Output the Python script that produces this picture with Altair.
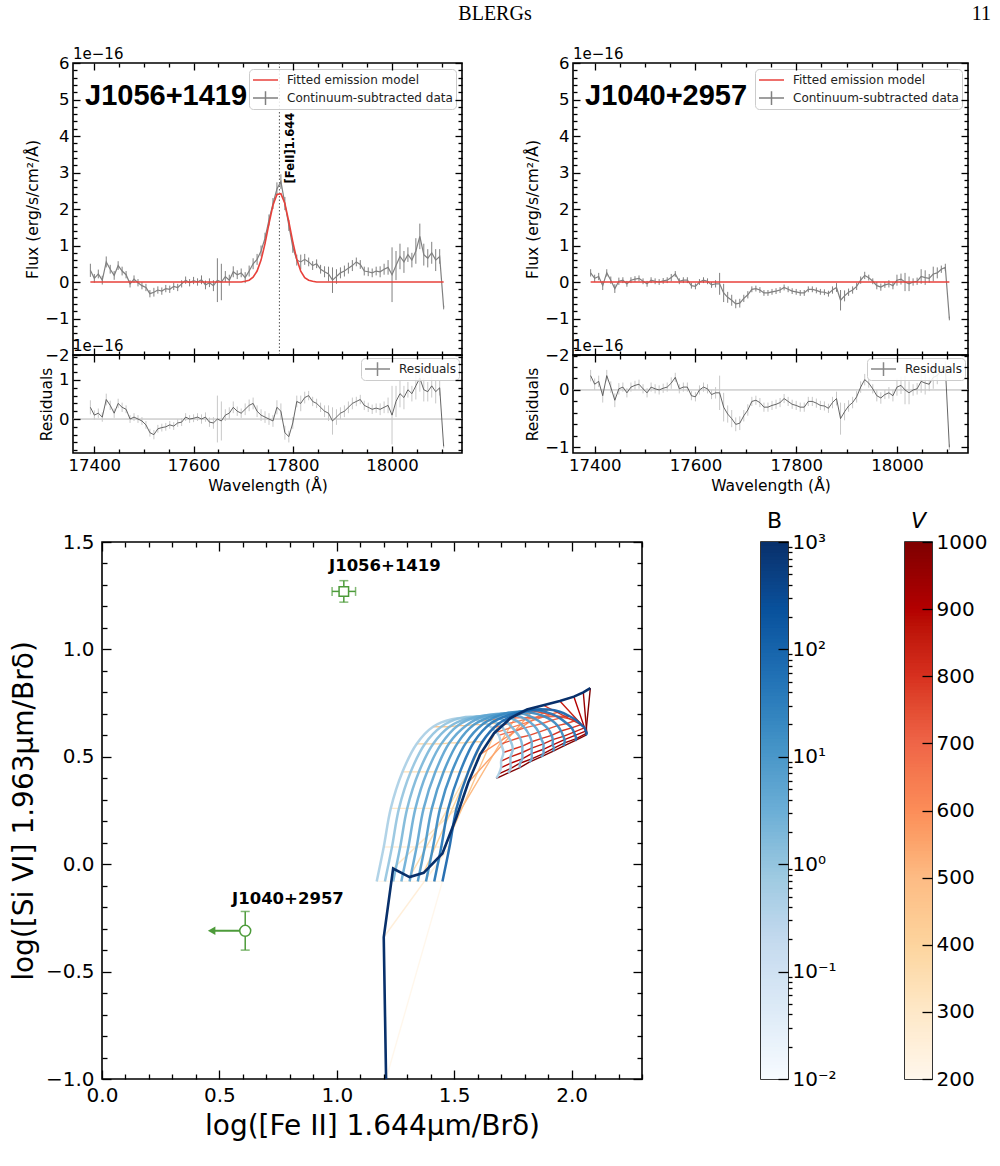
import altair as alt
import numpy as np
import pandas as pd

FONT = "DejaVu Sans"
GREEN = "#4d9b3a"
RED = "#e8413b"
GRAY = "#808080"

# ---------------- spectra (flux in units of 1e-16 erg/s/cm2/A) ----------------
WAVE = [17392, 17400, 17408, 17416, 17424, 17432, 17440, 17448, 17456, 17464,
        17472, 17480, 17488, 17496, 17504, 17512, 17520, 17528, 17536, 17544,
        17552, 17560, 17568, 17576, 17584, 17592, 17600, 17608, 17616, 17624,
        17632, 17640, 17648, 17656, 17664, 17672, 17680, 17688, 17696, 17704,
        17712, 17720, 17728, 17736, 17744, 17752, 17760, 17768, 17776, 17784,
        17792, 17800, 17808, 17816, 17824, 17832, 17840, 17848, 17856, 17864,
        17872, 17880, 17888, 17896, 17904, 17912, 17920, 17928, 17936, 17944,
        17952, 17960, 17968, 17976, 17984, 17992, 18000, 18008, 18016, 18024,
        18032, 18040, 18048, 18056, 18064, 18072, 18080, 18088, 18096, 18104]

J1056_FLUX = [0.32, 0.10, 0.22, 0.05, 0.55, 0.35, 0.18, 0.45, 0.30, 0.20,
              -0.05, 0.08, -0.02, -0.10, -0.15, -0.32, -0.28, -0.22, -0.25, -0.18,
              -0.20, -0.12, -0.15, -0.05, 0.05, -0.02, 0.04, 0.00, 0.06, -0.08,
              -0.02, -0.10, 0.05, 0.00, 0.15, 0.05, 0.28, 0.20, 0.25, 0.12,
              0.30, 0.50, 0.62, 0.85, 1.20, 1.70, 2.15, 2.55, 2.75, 2.15,
              1.55, 0.95, 0.60, 0.55, 0.62, 0.55, 0.45, 0.50, 0.35, 0.28,
              0.22, 0.05, 0.15, 0.25, 0.30, 0.38, 0.45, 0.55, 0.48, 0.30,
              0.28, 0.25, 0.30, 0.28, 0.35, 0.40, 0.20, 0.45, 0.70, 0.55,
              0.75, 0.60, 0.85, 1.25, 0.75, 0.65, 0.80, 0.60, 0.70, -0.70]
J1056_ERR = [0.18, 0.12, 0.12, 0.12, 0.15, 0.12, 0.12, 0.12, 0.12, 0.10,
             0.10, 0.10, 0.10, 0.10, 0.10, 0.10, 0.12, 0.10, 0.10, 0.10,
             0.10, 0.10, 0.10, 0.10, 0.10, 0.10, 0.10, 0.10, 0.12, 0.12,
             0.12, 0.15, 0.60, 0.50, 0.15, 0.15, 0.15, 0.12, 0.12, 0.15,
             0.15, 0.15, 0.15, 0.15, 0.15, 0.15, 0.15, 0.18, 0.20, 0.18,
             0.15, 0.15, 0.15, 0.20, 0.15, 0.12, 0.12, 0.12, 0.12, 0.15,
             0.20, 0.35, 0.20, 0.15, 0.15, 0.15, 0.15, 0.12, 0.12, 0.12,
             0.12, 0.12, 0.12, 0.15, 0.15, 0.20, 0.75, 0.40, 0.35, 0.30,
             0.20, 0.20, 0.35, 0.35, 0.30, 0.25, 0.30, 0.30, 0.20, 0.05]
J1056_MODEL = [0, 0, 0, 0, 0, 0, 0, 0, 0, 0,
               0, 0, 0, 0, 0, 0, 0, 0, 0, 0,
               0, 0, 0, 0, 0, 0, 0, 0, 0, 0,
               0, 0, 0, 0, 0, 0, 0, 0, 0, 0.02,
               0.05, 0.13, 0.30, 0.60, 1.05, 1.60, 2.10, 2.40, 2.42, 2.15,
               1.65, 1.10, 0.62, 0.30, 0.12, 0.05, 0.02, 0, 0, 0,
               0, 0, 0, 0, 0, 0, 0, 0, 0, 0,
               0, 0, 0, 0, 0, 0, 0, 0, 0, 0,
               0, 0, 0, 0, 0, 0, 0, 0, 0, 0]
J1056_RESID = [0.30, 0.10, 0.15, 0.05, 0.50, 0.35, 0.15, 0.40, 0.30, 0.25,
               0.00, 0.05, 0.00, -0.05, -0.15, -0.35, -0.40, -0.25, -0.22, -0.20,
               -0.15, -0.18, -0.10, -0.08, 0.05, 0.00, 0.02, 0.05, 0.00, 0.05,
               -0.08, -0.10, 0.00, -0.05, 0.10, 0.15, 0.30, 0.20, 0.15, 0.25,
               0.35, 0.40, 0.20, 0.10, 0.05, 0.00, -0.05, 0.30, 0.20, -0.35,
               -0.45, -0.10, 0.45, 0.40, 0.55, 0.60, 0.45, 0.40, 0.30, 0.20,
               0.15, -0.05, 0.05, 0.15, 0.20, 0.30, 0.40, 0.45, 0.50, 0.35,
               0.30, 0.25, 0.28, 0.25, 0.30, 0.35, 0.10, 0.45, 0.65, 0.55,
               0.75, 0.65, 0.85, 1.05, 0.75, 0.70, 0.85, 0.70, 0.80, -0.70]

J1040_FLUX = [0.25, 0.10, 0.15, -0.10, 0.25, 0.05, -0.18, 0.02, 0.05, -0.05,
              0.05, 0.08, 0.10, 0.02, -0.05, 0.05, 0.02, 0.00, 0.03, 0.05,
              0.12, 0.22, 0.02, 0.05, 0.05, -0.10, -0.12, 0.00, 0.05, 0.02,
              -0.08, -0.05, -0.05, -0.30, -0.42, -0.50, -0.60, -0.58, -0.45, -0.35,
              -0.20, -0.18, -0.22, -0.30, -0.30, -0.27, -0.25, -0.22, -0.15, -0.20,
              -0.25, -0.27, -0.30, -0.30, -0.20, -0.20, -0.23, -0.27, -0.28, -0.32,
              -0.22, -0.15, -0.50, -0.38, -0.28, -0.22, -0.12, 0.05, 0.18, 0.12,
              0.02, -0.10, -0.14, -0.08, -0.05, -0.10, 0.05, 0.08, 0.00, -0.05,
              0.00, 0.02, 0.15, 0.12, 0.10, 0.22, 0.25, 0.35, 0.40, -1.00]
J1040_ERR = [0.10, 0.10, 0.10, 0.12, 0.10, 0.10, 0.12, 0.10, 0.08, 0.08,
             0.08, 0.08, 0.08, 0.08, 0.08, 0.08, 0.08, 0.08, 0.08, 0.08,
             0.10, 0.08, 0.08, 0.08, 0.08, 0.08, 0.08, 0.08, 0.08, 0.08,
             0.08, 0.10, 0.30, 0.25, 0.15, 0.15, 0.12, 0.12, 0.10, 0.10,
             0.08, 0.08, 0.08, 0.08, 0.08, 0.08, 0.08, 0.08, 0.08, 0.08,
             0.08, 0.08, 0.08, 0.08, 0.08, 0.08, 0.08, 0.08, 0.08, 0.08,
             0.10, 0.12, 0.28, 0.15, 0.10, 0.10, 0.10, 0.10, 0.10, 0.08,
             0.08, 0.10, 0.10, 0.08, 0.10, 0.10, 0.15, 0.15, 0.25, 0.20,
             0.10, 0.10, 0.20, 0.20, 0.12, 0.20, 0.15, 0.10, 0.10, 0.05]
J1040_MODEL = [0.0] * len(WAVE)
J1040_RESID = J1040_FLUX

LINE_WAVE = [17773]
LINE_LABEL = ["[FeII]1.644"]
LINE_LABEL_WAVE = [17797]
LINE_LABEL_FLUX = [2.70]

LEG_MAIN = ["Fitted emission model", "Continuum-subtracted data"]
LEG_RES = ["Residuals"]
HEADER = ["BLERGs", "11"]

# ---------------- shock model grid (B curves x V curves) ----------------
MODEL_B = [0.5, 1.0, 2.0, 3.2, 5.0, 10.0, 20.0, 50.0, 100.0, 1000.0]
MODEL_V = [200, 250, 300, 350, 400, 450, 500, 550, 600, 650, 700, 750, 800, 850, 900, 950, 1000]
GRID_X = [
    [1.17, 1.20, 1.23, 1.28, 1.34, 1.41, 1.49, 1.56, 1.62, 1.66, 1.69, 1.70, 1.71, 1.70, 1.70, 1.69, 1.68],
    [1.205, 1.235, 1.265, 1.315, 1.375, 1.445, 1.525, 1.595, 1.655, 1.70, 1.72, 1.74, 1.75, 1.74, 1.74, 1.74, 1.73],
    [1.24, 1.27, 1.30, 1.35, 1.41, 1.48, 1.56, 1.63, 1.69, 1.73, 1.76, 1.78, 1.79, 1.79, 1.79, 1.78, 1.78],
    [1.275, 1.305, 1.335, 1.385, 1.445, 1.515, 1.595, 1.665, 1.725, 1.77, 1.80, 1.82, 1.83, 1.83, 1.83, 1.83, 1.82],
    [1.31, 1.34, 1.37, 1.42, 1.48, 1.55, 1.63, 1.70, 1.76, 1.805, 1.84, 1.86, 1.87, 1.88, 1.88, 1.88, 1.87],
    [1.345, 1.375, 1.405, 1.455, 1.515, 1.585, 1.665, 1.735, 1.795, 1.84, 1.875, 1.90, 1.915, 1.92, 1.92, 1.925, 1.92],
    [1.38, 1.41, 1.44, 1.49, 1.55, 1.62, 1.70, 1.77, 1.83, 1.88, 1.915, 1.94, 1.955, 1.965, 1.97, 1.97, 1.965],
    [1.415, 1.445, 1.475, 1.525, 1.585, 1.655, 1.735, 1.805, 1.865, 1.915, 1.95, 1.98, 2.00, 2.01, 2.015, 2.02, 2.015],
    [1.45, 1.48, 1.51, 1.56, 1.62, 1.69, 1.77, 1.84, 1.90, 1.95, 1.99, 2.02, 2.04, 2.055, 2.06, 2.065, 2.06],
    [1.21, 1.20, 1.24, 1.31, 1.37, 1.45, 1.51, 1.56, 1.61, 1.67, 1.74, 1.81, 1.88, 1.95, 2.01, 2.05, 2.08],
]
GRID_Y = [
    [-0.08, 0.08, 0.26, 0.43, 0.56, 0.64, 0.675, 0.68, 0.665, 0.635, 0.60, 0.56, 0.52, 0.48, 0.45, 0.42, 0.40],
    [-0.08, 0.08, 0.26, 0.43, 0.56, 0.64, 0.68, 0.685, 0.67, 0.645, 0.61, 0.575, 0.535, 0.50, 0.47, 0.445, 0.425],
    [-0.08, 0.08, 0.26, 0.43, 0.56, 0.64, 0.68, 0.69, 0.68, 0.655, 0.62, 0.59, 0.55, 0.52, 0.49, 0.47, 0.45],
    [-0.08, 0.08, 0.26, 0.43, 0.56, 0.645, 0.685, 0.695, 0.685, 0.665, 0.635, 0.60, 0.57, 0.54, 0.515, 0.49, 0.475],
    [-0.08, 0.08, 0.26, 0.43, 0.565, 0.645, 0.69, 0.70, 0.695, 0.675, 0.645, 0.615, 0.585, 0.56, 0.535, 0.515, 0.50],
    [-0.08, 0.08, 0.26, 0.43, 0.565, 0.65, 0.69, 0.705, 0.70, 0.68, 0.655, 0.63, 0.60, 0.58, 0.555, 0.54, 0.525],
    [-0.08, 0.08, 0.26, 0.43, 0.565, 0.65, 0.695, 0.71, 0.705, 0.69, 0.67, 0.645, 0.62, 0.595, 0.58, 0.565, 0.55],
    [-0.08, 0.08, 0.26, 0.43, 0.57, 0.655, 0.695, 0.715, 0.715, 0.70, 0.68, 0.655, 0.635, 0.615, 0.60, 0.585, 0.575],
    [-0.08, 0.08, 0.26, 0.43, 0.57, 0.655, 0.70, 0.72, 0.72, 0.71, 0.69, 0.67, 0.65, 0.635, 0.62, 0.61, 0.60],
    [-1.00, -0.34, -0.02, -0.06, -0.04, 0.05, 0.22, 0.38, 0.51, 0.61, 0.68, 0.72, 0.74, 0.76, 0.78, 0.80, 0.82],
]

# colour maps (matplotlib Blues / OrRd stops)
BLUES = ["#f7fbff", "#deebf7", "#c6dbef", "#9ecae1", "#6baed6", "#4292c6", "#2171b5", "#08519c", "#08306b"]
ORRD = ["#fff7ec", "#fee8c8", "#fdd49e", "#fdbb84", "#fc8d59", "#ef6548", "#d7301f", "#b30000", "#7f0000"]
B_STOPS = [10.0 ** (-2 + 5 * k / 8) for k in range(9)]
V_STOPS = [200, 300, 400, 500, 600, 700, 800, 900, 1000]

# observed objects
OBS_NAME = ["J1056+1419", "J1040+2957"]
OBS_X = [1.03, 0.61]
OBS_Y = [1.27, -0.31]
OBS_XERR = [0.05, 0.0]
OBS_YERR = [0.05, 0.09]
OBS_SHAPE = ["square", "circle"]
UL_X_TO = [0.467]
LABEL_X = [1.205, 0.792]
LABEL_Y = [1.388, -0.162]

# tick positions
TOP_X_MAJOR = [17400, 17600, 17800, 18000]
TOP_X_MINOR = [17450, 17500, 17550, 17650, 17700, 17750, 17850, 17900, 17950, 18050, 18100]
FLUX_Y_MAJOR = [-2, -1, 0, 1, 2, 3, 4, 5, 6]
FLUX_Y_MINOR = [round(-2 + 0.2 * i, 1) for i in range(41) if i % 5]
RES1_Y_MAJOR = [0, 1]
RES1_Y_MINOR = [-0.8, -0.6, -0.4, -0.2, 0.2, 0.4, 0.6, 0.8, 1.2, 1.4, 1.6]
RES2_Y_MAJOR = [-1, 0]
RES2_Y_MINOR = [-0.8, -0.6, -0.4, -0.2, 0.2, 0.4, 0.6]
BOT_X_MAJOR = [0.0, 0.5, 1.0, 1.5, 2.0]
BOT_X_MINOR = [round(0.1 * i, 1) for i in range(24) if i % 5]
BOT_Y_MAJOR = [-1.0, -0.5, 0.0, 0.5, 1.0, 1.5]
BOT_Y_MINOR = [round(-1 + 0.1 * i, 1) for i in range(26) if i % 5]
B_MAJOR = [0.01, 0.1, 1, 10, 100, 1000]
B_MINOR = [k * 10.0 ** e for e in range(-2, 3) for k in range(2, 10)]
V_MAJOR = [200, 300, 400, 500, 600, 700, 800, 900, 1000]

XDOM = [17357, 18141]


def tick_axis(orient, values, size, labels=False, title=None, fmt=None, lfs=16,
              tfs=15, lpad=4, tpad=4, expr=None, offset=None):
    kw = dict(orient=orient, values=values, tickSize=size,
              offset=(-size if offset is None else offset), labels=labels,
              domain=False, grid=False, ticks=True, tickColor="black",
              tickWidth=1.3, zindex=2, title=title)
    if labels:
        kw.update(labelFontSize=lfs, labelFont=FONT, labelColor="black",
                  labelPadding=lpad, labelFlush=False, labelOverlap=False,
                  labelBound=False)
        if fmt:
            kw["format"] = fmt
        if expr:
            kw["labelExpr"] = expr
    if title:
        kw.update(titleFontSize=tfs, titleFont=FONT, titleFontWeight="normal",
                  titleColor="black", titlePadding=tpad)
    return alt.Axis(**kw)


def frame_layers(xdom, ydom, xmaj, xmin, ymaj, ymin, big, small, xlab=True,
                 ylab=True, xtitle=None, ytitle=None, xfmt="d", yfmt="d",
                 lfs=16, tfs=15, xlpad=4, ylpad=4, xtpad=4, ytpad=4, ytfs=None):
    corners = pd.DataFrame({"fx": list(xdom), "fy": list(ydom)})
    xs = alt.Scale(domain=list(xdom), nice=False, zero=False)
    ys = alt.Scale(domain=list(ydom), nice=False, zero=False)
    conf = [("bottom", "left", xmaj, ymaj, big, True),
            ("bottom", "left", xmin, ymin, small, False),
            ("top", "right", xmaj, ymaj, big, False),
            ("top", "right", xmin, ymin, small, False)]
    out = []
    for xo, yo, xv, yv, sz, main in conf:
        xa = tick_axis(xo, xv, sz, labels=(main and xlab),
                       title=(xtitle if main else None), fmt=xfmt, lfs=lfs,
                       tfs=tfs, lpad=xlpad, tpad=xtpad)
        ya = tick_axis(yo, yv, sz, labels=(main and ylab),
                       title=(ytitle if main else None), fmt=yfmt, lfs=lfs,
                       tfs=(ytfs or tfs), lpad=ylpad, tpad=ytpad)
        out.append(alt.Chart(corners).mark_point(opacity=0).encode(
            x=alt.X("fx:Q", scale=xs, axis=xa),
            y=alt.Y("fy:Q", scale=ys, axis=ya)))
    return out


def legend_layer(names, colors, shapes, offset, xdom, ydom):
    leg = alt.Legend(title=None, orient="top-right", offset=offset,
                     labelFontSize=12, labelFont=FONT, labelColor="#222222",
                     fillColor="rgba(255,255,255,0.85)", strokeColor="#cccccc",
                     cornerRadius=4, padding=3, rowPadding=2, labelLimit=300,
                     symbolSize=625, symbolStrokeWidth=1.5, symbolOpacity=1,
                     clipHeight=16, labelOffset=8)
    df = pd.DataFrame({"series": names, "lx": [xdom[0]] * len(names), "ly": [ydom[0]] * len(names)})
    return alt.Chart(df).mark_point(opacity=0, filled=False).encode(
        x=alt.X("lx:Q", scale=alt.Scale(domain=xdom, nice=False, zero=False), axis=None),
        y=alt.Y("ly:Q", scale=alt.Scale(domain=ydom, nice=False, zero=False), axis=None),
        color=alt.Color("series:N", scale=alt.Scale(domain=names, range=colors), legend=leg),
        shape=alt.Shape("series:N", scale=alt.Scale(domain=names, range=shapes), legend=leg))


def text_px(txt, x, y, size, weight="normal", align="left", font=FONT, style="normal"):
    return alt.Chart(pd.DataFrame({"t": [txt]})).mark_text(
        align=align, baseline="middle", font=font, fontSize=size,
        fontWeight=weight, fontStyle=style, color="black").encode(
        x=alt.value(x), y=alt.value(y), text="t:N")


def spectrum_panel(flux, err, model, name, width, line=False, header=False):
    df = pd.DataFrame({"wave": WAVE, "f": flux, "m": model,
                       "lo": [a - b for a, b in zip(flux, err)],
                       "hi": [a + b for a, b in zip(flux, err)]})
    xs = alt.Scale(domain=XDOM, nice=False, zero=False)
    ys = alt.Scale(domain=[-2, 6], nice=False, zero=False)
    X = alt.X("wave:Q", scale=xs, axis=None)
    base = alt.Chart(df)
    layers = []
    if line:
        ldf = pd.DataFrame({"wave": LINE_WAVE, "a": [-2], "b": [6]})
        layers.append(alt.Chart(ldf).mark_rule(color="#555555", strokeWidth=1,
                                               strokeDash=[1.5, 2]).encode(
            x=X, y=alt.Y("a:Q", scale=ys, axis=None), y2="b:Q"))
    layers += [
        base.mark_rule(color=GRAY, strokeWidth=1, clip=True).encode(
            x=X, y=alt.Y("lo:Q", scale=ys, axis=None), y2="hi:Q"),
        base.mark_line(color=GRAY, strokeWidth=1.2, clip=True).encode(
            x=X, y=alt.Y("f:Q", scale=ys, axis=None)),
        base.mark_line(color=RED, strokeWidth=1.6, clip=True).encode(
            x=X, y=alt.Y("m:Q", scale=ys, axis=None)),
    ]
    if line:
        tdf = pd.DataFrame({"wave": LINE_LABEL_WAVE, "f": LINE_LABEL_FLUX, "t": LINE_LABEL})
        layers.append(alt.Chart(tdf).mark_text(
            angle=270, align="left", baseline="middle", font=FONT, fontSize=11.5,
            fontWeight="bold", color="black").encode(
            x=X, y=alt.Y("f:Q", scale=ys, axis=None), text="t:N"))
    layers.append(text_px(name, 12, 33, 29, weight="bold", font="Liberation Sans"))
    layers.append(text_px("1e\u221216", 0, -9, 15))
    if header:
        layers.append(text_px(HEADER[0], 422, -49, 20, align="center", font="Liberation Serif"))
        layers.append(text_px(HEADER[1], 918, -49, 20, align="right", font="Liberation Serif"))
    layers.append(legend_layer(LEG_MAIN, [RED, GRAY],
                               ["stroke", "M-1,0H1M0,-0.55V0.55"], 6, XDOM, [-2, 6]))
    layers += frame_layers(XDOM, [-2, 6], TOP_X_MAJOR, TOP_X_MINOR,
                           FLUX_Y_MAJOR, FLUX_Y_MINOR, 7, 4, xlab=False,
                           ytitle="Flux (erg/s/cm\u00b2/\u00c5)", lfs=16.5, tfs=15.5)
    return alt.layer(*layers).resolve_axis(x="independent", y="independent").properties(
        width=width, height=292)


def residual_panel(resid, err, ydom, ymaj, ymin, width):
    df = pd.DataFrame({"wave": WAVE, "r": resid,
                       "lo": [a - b for a, b in zip(resid, err)],
                       "hi": [a + b for a, b in zip(resid, err)]})
    xs = alt.Scale(domain=XDOM, nice=False, zero=False)
    ys = alt.Scale(domain=ydom, nice=False, zero=False)
    X = alt.X("wave:Q", scale=xs, axis=None)
    base = alt.Chart(df)
    zdf = pd.DataFrame({"wave": [XDOM[0]], "w2": [XDOM[1]], "z": [0]})
    layers = [
        alt.Chart(zdf).mark_rule(color="#b5b5b5", strokeWidth=1).encode(
            x=X, x2="w2:Q", y=alt.Y("z:Q", scale=ys, axis=None)),
        base.mark_rule(color="#c8c8c8", strokeWidth=1, clip=True).encode(
            x=X, y=alt.Y("lo:Q", scale=ys, axis=None), y2="hi:Q"),
        base.mark_line(color="#555555", strokeWidth=0.9, clip=True).encode(
            x=X, y=alt.Y("r:Q", scale=ys, axis=None)),
        text_px("1e\u221216", 0, -9, 15),
        legend_layer(LEG_RES, ["#888888"], ["M-1,0H1M0,-0.55V0.55"], 3, XDOM, ydom),
    ]
    layers += frame_layers(XDOM, ydom, TOP_X_MAJOR, TOP_X_MINOR, ymaj, ymin, 7, 4,
                           xtitle="Wavelength (\u00c5)", ytitle="Residuals",
                           xtpad=5, lfs=16.5, tfs=15.5)
    return alt.layer(*layers).resolve_axis(x="independent", y="independent").properties(
        width=width, height=98)


# ---------------- model-grid diagnostic panel ----------------
rows = []
for b, xr, yr in zip(MODEL_B, GRID_X, GRID_Y):
    for v, xv, yv in zip(MODEL_V, xr, yr):
        rows.append({"B": b, "V": v, "x": xv, "y": yv})
grid = pd.DataFrame(rows)

bxs = alt.Scale(domain=[0, 2.3], nice=False, zero=False)
bys = alt.Scale(domain=[-1, 1.5], nice=False, zero=False)
BX = alt.X("x:Q", scale=bxs, axis=None)
BY = alt.Y("y:Q", scale=bys, axis=None)
B_CSCALE = alt.Scale(type="log", domain=B_STOPS, range=BLUES)
V_CSCALE = alt.Scale(domain=V_STOPS, range=ORRD)

red_lines = alt.Chart(grid).mark_line(strokeWidth=1.4, clip=True).encode(
    x=BX, y=BY, detail="V:Q", order=alt.Order("B:Q"),
    color=alt.Color("V:Q", scale=V_CSCALE, legend=None))
blue_lines = alt.Chart(grid[grid.B < 1000]).mark_line(
    strokeWidth=2.5, opacity=0.92, interpolate="catmull-rom", clip=True).encode(
    x=BX, y=BY, detail="B:Q", order=alt.Order("V:Q"),
    color=alt.Color("B:Q", scale=B_CSCALE, legend=None))
dark_line = alt.Chart(grid[grid.B == 1000]).mark_line(
    strokeWidth=2.6, color="#08306b", clip=True).encode(x=BX, y=BY, order=alt.Order("V:Q"))

obs = pd.DataFrame({"name": OBS_NAME, "x": OBS_X, "y": OBS_Y, "shape": OBS_SHAPE,
                    "xlo": [a - b for a, b in zip(OBS_X, OBS_XERR)],
                    "xhi": [a + b for a, b in zip(OBS_X, OBS_XERR)],
                    "ylo": [a - b for a, b in zip(OBS_Y, OBS_YERR)],
                    "yhi": [a + b for a, b in zip(OBS_Y, OBS_YERR)],
                    "lx": LABEL_X, "ly": LABEL_Y})
obs_x = obs[obs.xlo < obs.xhi]
ul = pd.DataFrame({"x": [OBS_X[1]], "x2": UL_X_TO, "y": [OBS_Y[1]]})

obs_layers = [
    alt.Chart(obs).mark_rule(color=GREEN, strokeWidth=1.5).encode(
        x=alt.X("x:Q", scale=bxs, axis=None), y=alt.Y("ylo:Q", scale=bys, axis=None), y2="yhi:Q"),
    alt.Chart(obs).mark_tick(orient="horizontal", size=9, thickness=1.5, color=GREEN).encode(
        x=alt.X("x:Q", scale=bxs, axis=None), y=alt.Y("ylo:Q", scale=bys, axis=None)),
    alt.Chart(obs).mark_tick(orient="horizontal", size=9, thickness=1.5, color=GREEN).encode(
        x=alt.X("x:Q", scale=bxs, axis=None), y=alt.Y("yhi:Q", scale=bys, axis=None)),
    alt.Chart(obs_x).mark_rule(color=GREEN, strokeWidth=1.5).encode(
        x=alt.X("xlo:Q", scale=bxs, axis=None), x2="xhi:Q", y=alt.Y("y:Q", scale=bys, axis=None)),
    alt.Chart(obs_x).mark_tick(orient="vertical", size=9, thickness=1.5, color=GREEN).encode(
        x=alt.X("xlo:Q", scale=bxs, axis=None), y=alt.Y("y:Q", scale=bys, axis=None)),
    alt.Chart(obs_x).mark_tick(orient="vertical", size=9, thickness=1.5, color=GREEN).encode(
        x=alt.X("xhi:Q", scale=bxs, axis=None), y=alt.Y("y:Q", scale=bys, axis=None)),
    alt.Chart(ul).mark_rule(color=GREEN, strokeWidth=2).encode(
        x=alt.X("x:Q", scale=bxs, axis=None), x2="x2:Q", y=alt.Y("y:Q", scale=bys, axis=None)),
    alt.Chart(ul).mark_point(shape="triangle-left", size=75, filled=True, color=GREEN, opacity=1).encode(
        x=alt.X("x2:Q", scale=bxs, axis=None), y=alt.Y("y:Q", scale=bys, axis=None)),
    alt.Chart(obs[obs["shape"] == "square"]).mark_point(
        shape="square", size=90, filled=True, fill="white", stroke=GREEN, strokeWidth=1.5, opacity=1).encode(
        x=alt.X("x:Q", scale=bxs, axis=None), y=alt.Y("y:Q", scale=bys, axis=None)),
    alt.Chart(obs[obs["shape"] == "circle"]).mark_point(
        shape="circle", size=120, filled=True, fill="white", stroke=GREEN, strokeWidth=1.5, opacity=1).encode(
        x=alt.X("x:Q", scale=bxs, axis=None), y=alt.Y("y:Q", scale=bys, axis=None)),
    alt.Chart(obs).mark_text(font=FONT, fontSize=16.5, fontWeight="bold", color="black",
                             align="center", baseline="middle").encode(
        x=alt.X("lx:Q", scale=bxs, axis=None), y=alt.Y("ly:Q", scale=bys, axis=None), text="name:N"),
]

scatter = alt.layer(
    red_lines, blue_lines, dark_line, *obs_layers,
    *frame_layers([0, 2.3], [-1, 1.5], BOT_X_MAJOR, BOT_X_MINOR, BOT_Y_MAJOR, BOT_Y_MINOR,
                  9, 5, xtitle="log([Fe II] 1.644\u03bcm/Br\u03b4)",
                  ytitle="log([Si VI] 1.963\u03bcm/Br\u03b4)", xfmt=".1f", yfmt=".1f",
                  lfs=20, tfs=28, ytfs=28, xlpad=6, ylpad=8, xtpad=7, ytpad=7)
).resolve_scale(color="independent").resolve_axis(x="independent", y="independent").properties(
    width=540, height=537)


def colorbar(edges, scale_type, domain, cscale, major, minor, expr, title, italic):
    n = len(edges) - 1
    lo = list(edges[:-1])
    hi = [edges[min(i + 2, n)] for i in range(n)]  # overlap neighbours to hide seams
    if scale_type == "log":
        mid = list(np.sqrt(edges[:-1] * edges[1:]))
        ys = alt.Scale(type="log", domain=domain, nice=False)
    else:
        mid = list((edges[:-1] + edges[1:]) / 2)
        ys = alt.Scale(domain=domain, nice=False, zero=False)
    df = pd.DataFrame({"lo": lo, "hi": hi, "mid": mid,
                       "c0": [0.0] * n, "c1": [1.0] * n})
    xs = alt.Scale(domain=[0, 1], nice=False, zero=False)
    stripes = alt.Chart(df).mark_rect(strokeWidth=0).encode(
        x=alt.X("c0:Q", scale=xs, axis=None), x2="c1:Q",
        y=alt.Y("lo:Q", scale=ys, axis=None), y2="hi:Q",
        color=alt.Color("mid:Q", scale=cscale, legend=None))
    majax = tick_axis("right", major, 10, labels=True, fmt="d", lfs=20, lpad=4, expr=expr)
    layers = [stripes,
              alt.Chart(df).mark_point(opacity=0).encode(
                  x=alt.X("c0:Q", scale=xs, axis=None),
                  y=alt.Y("lo:Q", scale=ys, axis=majax))]
    if minor:
        minax = tick_axis("right", minor, 4, offset=0)
        layers.append(alt.Chart(df).mark_point(opacity=0).encode(
            x=alt.X("c0:Q", scale=xs, axis=None),
            y=alt.Y("lo:Q", scale=ys, axis=minax)))
    return alt.layer(*layers).resolve_axis(y="independent").resolve_scale(
        color="independent").properties(
        width=27, height=537,
        title=alt.TitleParams(title, fontSize=22, font=FONT, fontWeight="normal",
                              fontStyle=("italic" if italic else "normal"),
                              offset=-1, anchor="middle", color="black"))


B_EXPR = "'10' + ['\u207b\u00b2','\u207b\u00b9','\u2070','\u00b9','\u00b2','\u00b3'][round(log(datum.value)/LN10) + 2]"
cbB = colorbar(np.logspace(-2, 3, 151), "log", [0.01, 1000], B_CSCALE, B_MAJOR, B_MINOR,
               B_EXPR, "B", False)
cbV = colorbar(np.linspace(200, 1000, 161), "linear", [200, 1000], V_CSCALE, V_MAJOR, None,
               None, "V", True)


def spacer(w):
    df = pd.DataFrame({"s": [0.0]})
    return alt.Chart(df).mark_point(opacity=0).encode(
        x=alt.X("s:Q", axis=None), y=alt.Y("s:Q", axis=None)).properties(
        width=w, height=10, view=alt.ViewBackground(strokeOpacity=0))


# ---------------- composition ----------------
# note: with flush bounds a nested concat counts as zero size, so the spacing
# values below are the offsets between the panels' top-left corners.
RES = dict(color="independent", shape="independent", stroke="independent")

left_col = alt.vconcat(
    spectrum_panel(J1056_FLUX, J1056_ERR, J1056_MODEL, "J1056+1419", 389, line=True, header=True),
    residual_panel(J1056_RESID, J1056_ERR, [-0.87, 1.64], RES1_Y_MAJOR, RES1_Y_MINOR, 389),
    spacing=0, bounds="flush").resolve_scale(**RES)
right_col = alt.vconcat(
    spectrum_panel(J1040_FLUX, J1040_ERR, J1040_MODEL, "J1040+2957", 395),
    residual_panel(J1040_RESID, J1040_ERR, [-1.1, 0.61], RES2_Y_MAJOR, RES2_Y_MINOR, 395),
    spacing=0, bounds="flush").resolve_scale(**RES)
top_row = alt.hconcat(left_col, right_col, spacing=500, bounds="flush").resolve_scale(**RES)

bottom_row = alt.hconcat(spacer(29), scatter, spacer(119), cbB, spacer(117), cbV,
                         spacing=0, bounds="flush").resolve_scale(**RES)

chart = alt.vconcat(top_row, bottom_row, spacing=479, bounds="flush").resolve_scale(**RES).properties(
    padding={"left": 9, "top": 3, "right": 0, "bottom": 0}, background="white"
).configure_view(stroke="black", strokeWidth=1.6)

chart.save("out.html", embed_options={"renderer": "svg", "actions": False})
